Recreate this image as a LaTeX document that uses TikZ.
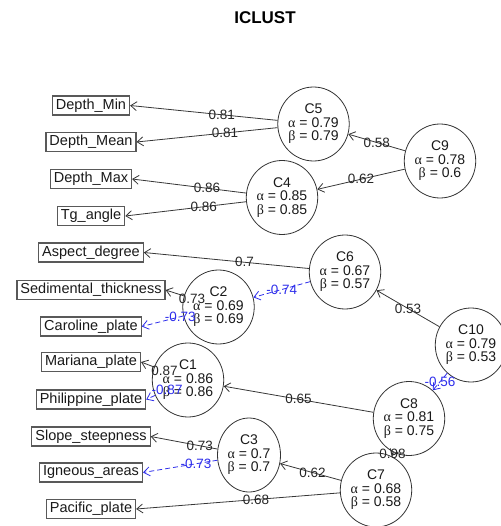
\documentclass[tikz,border=0pt]{standalone}
\usepackage{fontspec}
\setmainfont{Liberation Sans}
\newfontfamily\grk{Liberation Serif}
\usetikzlibrary{shapes.geometric,arrows.meta}
\definecolor{negblue}{RGB}{45,45,235}
\definecolor{edgegray}{RGB}{55,55,55}
\newcommand{\ga}{{\grk α}}
\newcommand{\gb}{{\grk β}}
\begin{document}
\begin{tikzpicture}[x=1pt,y=-1pt,
  var/.style={draw=black!65, line width=1.1pt, font=\fontsize{14.5}{15}\selectfont, inner xsep=3.5pt, inner ysep=0pt, minimum height=19pt, text=black!90},
  clu/.style={ellipse, draw=black!80, line width=0.8pt, minimum width=63pt, minimum height=74pt, inner sep=0pt, align=center, font=\fontsize{14}{13.5}\selectfont, text=black!90},
  arr/.style={draw=edgegray, line width=0.8pt, -{Straight Barb[length=6pt,width=9pt]}},
  neg/.style={arr, draw=negblue, dash pattern=on 5pt off 3pt},
  lab/.style={font=\fontsize{13.5}{14}\selectfont, inner sep=0pt, text=black!85},
  nlab/.style={lab, text=negblue}]
\useasboundingbox (0,0) rectangle (500,526);
\node[font=\bfseries\fontsize{17}{17}\selectfont] (title) at (265,18) {ICLUST};
% variables
\node[var] (dmin)  at (91,105.5) {Depth\_Min};
\node[var] (dmean) at (91,142)   {Depth\_Mean};
\node[var] (dmax)  at (91,179)   {Depth\_Max};
\node[var] (tg)    at (91,216)   {Tg\_angle};
\node[var] (asp)   at (91,252.5) {Aspect\_degree};
\node[var] (sed)   at (91,290)   {Sedimental\_thickness};
\node[var] (car)   at (91,326.5) {Caroline\_plate};
\node[var] (mar)   at (91,362)   {Mariana\_plate};
\node[var] (phi)   at (91,399.5) {Philippine\_plate};
\node[var] (slope) at (91,436.5) {Slope\_steepness};
\node[var] (ign)   at (91,472.5) {Igneous\_areas};
\node[var] (pac)   at (91,509)   {Pacific\_plate};
% clusters
\node[clu] (C5)  at (313.5,124) {C5\\\ga{} = 0.79\\\gb{} = 0.79};
\node[clu] (C9)  at (440,161)   {C9\\\ga{} = 0.78\\\gb{} = 0.6};
\node[clu] (C4)  at (282,197.5) {C4\\\ga{} = 0.85\\\gb{} = 0.85};
\node[clu] (C6)  at (345,272)   {C6\\\ga{} = 0.67\\\gb{} = 0.57};
\node[clu] (C10) at (471,345)   {C10\\\ga{} = 0.79\\\gb{} = 0.53};
\node[clu] (C2)  at (218.5,307) {C2\\\ga{} = 0.69\\\gb{} = 0.69};
\node[clu] (C1)  at (188,380)   {C1\\\ga{} = 0.86\\\gb{} = 0.86};
\node[clu] (C8)  at (409,418.5) {C8\\\ga{} = 0.81\\\gb{} = 0.75};
\node[clu] (C3)  at (249,455)   {C3\\\ga{} = 0.7\\\gb{} = 0.7};
\node[clu] (C7)  at (376,490)   {C7\\\ga{} = 0.68\\\gb{} = 0.58};
% connectors
\draw[arr] (C5) -- (dmin.east);  \path (C5.center) -- (dmin.east) node[midway,lab] {0.81};
\draw[arr] (C5) -- (dmean.east); \path (C5.center) -- (dmean.east) node[midway,lab] {0.81};
\draw[arr] (C4) -- (dmax.east);  \path (C4.center) -- (dmax.east) node[midway,lab] {0.86};
\draw[arr] (C4) -- (tg.east);    \path (C4.center) -- (tg.east) node[midway,lab] {0.86};
\draw[arr] (C9) -- (C5);         \path (C9.center) -- (C5.center) node[midway,lab] {0.58};
\draw[arr] (C9) -- (C4);         \path (C9.center) -- (C4.center) node[midway,lab] {0.62};
\draw[arr] (C6) -- (asp.east);   \path (C6.center) -- (asp.east) node[midway,lab] {0.7};
\draw[neg] (C6) -- (C2);         \path (C6.center) -- (C2.center) node[midway,nlab] {-0.74};
\draw[arr] (C2) -- (sed.east);   \path (C2.center) -- (sed.east) node[midway,lab] {0.73};
\draw[neg] (C2) -- (car.east);   \path (C2.center) -- (car.east) node[midway,nlab] {-0.73};
\draw[arr] (C1) -- (mar.east);   \path (C1.center) -- (mar.east) node[midway,lab] {0.87};
\draw[neg] (C1) -- (phi.east);   \path (C1.center) -- (phi.east) node[midway,nlab] {-0.87};
\draw[arr] (C10) -- (C6);        \path (C10.center) -- (C6.center) node[midway,lab] {0.53};
\draw[neg] (C10) -- (C8);        \path (C10.center) -- (C8.center) node[midway,nlab] {-0.56};
\draw[arr] (C8) -- (C1);         \path (C8.center) -- (C1.center) node[midway,lab] {0.65};
\draw[arr] (C8) -- (C7);         \path (C8.center) -- (C7.center) node[midway,lab] {0.98};
\draw[arr] (C7) -- (C3);         \path (C7.center) -- (C3.center) node[midway,lab] {0.62};
\draw[arr] (C7) -- (pac.east);   \path (C7.center) -- (pac.east) node[midway,lab] {0.68};
\draw[arr] (C3) -- (slope.east); \path (C3.center) -- (slope.east) node[midway,lab] {0.73};
\draw[neg] (C3) -- (ign.east);   \path (C3.center) -- (ign.east) node[midway,nlab] {-0.73};
\end{tikzpicture}
\end{document}
